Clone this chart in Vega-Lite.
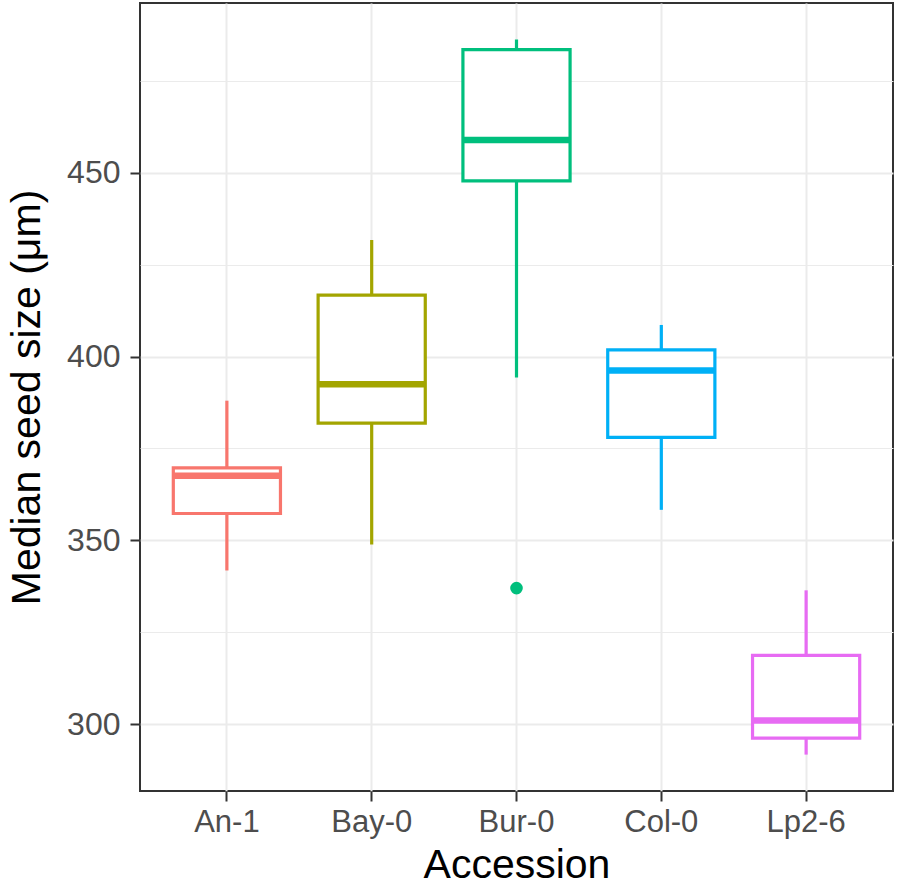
{
  "$schema": "https://vega.github.io/schema/vega-lite/v6.json",
  "width": 753,
  "height": 788,
  "autosize": {"type": "none"},
  "padding": {"left": 140, "top": 3, "right": 5, "bottom": 99},
  "background": "white",
  "config": {
    "view": {"stroke": "#333333", "strokeWidth": 2},
    "font": "Liberation Sans"
  },
  "data": {
    "values": [
      {"accession": "An-1", "lower": 341.8, "q1": 357.3, "median": 367.6, "q3": 369.7, "upper": 388.0},
      {"accession": "Bay-0", "lower": 348.9, "q1": 381.9, "median": 392.5, "q3": 416.7, "upper": 431.7},
      {"accession": "Bur-0", "lower": 394.3, "q1": 447.8, "median": 458.9, "q3": 483.5, "upper": 486.3, "outlier": 337.0},
      {"accession": "Col-0", "lower": 358.3, "q1": 378.0, "median": 396.2, "q3": 401.8, "upper": 408.6},
      {"accession": "Lp2-6", "lower": 291.7, "q1": 296.2, "median": 301.0, "q3": 318.7, "upper": 336.4}
    ]
  },
  "encoding": {
    "x": {
      "field": "accession",
      "type": "nominal",
      "scale": {"type": "band", "paddingInner": 0, "paddingOuter": 0.1},
      "axis": {
        "title": "Accession",
        "titleFontSize": 41,
        "titleFontWeight": "normal",
        "titleColor": "black",
        "titlePadding": 8,
        "labelFontSize": 31,
        "labelColor": "#4D4D4D",
        "labelAngle": 0,
        "labelPadding": 6,
        "tickSize": 10,
        "tickWidth": 2,
        "tickColor": "#333333",
        "domain": false,
        "grid": true,
        "gridColor": "#EBEBEB",
        "gridWidth": 2,
        "bandPosition": 0.5
      }
    },
    "color": {
      "field": "accession",
      "type": "nominal",
      "scale": {"range": ["#F8766D", "#A3A500", "#00BF7D", "#00B0F6", "#E76BF3"]},
      "legend": null
    }
  },
  "layer": [
    {
      "mark": {"type": "rule", "strokeWidth": 3.2},
      "encoding": {
        "y": {
          "field": "lower",
          "type": "quantitative",
          "scale": {"domain": [281.8, 496.2], "nice": false, "zero": false},
          "axis": {
            "title": "Median seed size (μm)",
            "titleFontSize": 41,
            "titleFontWeight": "normal",
            "titleColor": "black",
            "titlePadding": 18,
            "values": [300, 325, 350, 375, 400, 425, 450, 475],
            "labelExpr": "datum.value % 50 == 0 ? datum.label : ''",
            "labelFontSize": 32,
            "labelColor": "#4D4D4D",
            "labelPadding": 10,
            "tickSize": 10,
            "tickWidth": 2,
            "tickColor": "#333333",
            "tickOpacity": {"condition": {"test": "datum.value % 50 == 0", "value": 1}, "value": 0},
            "domain": false,
            "grid": true,
            "gridColor": "#EBEBEB",
            "gridWidth": {"condition": {"test": "datum.value % 50 == 0", "value": 2}, "value": 1}
          }
        },
        "y2": {"field": "upper"}
      }
    },
    {
      "mark": {"type": "bar", "fill": "white", "strokeWidth": 3.2, "width": {"band": 0.74}},
      "encoding": {
        "y": {"field": "q1", "type": "quantitative"},
        "y2": {"field": "q3"},
        "stroke": {"field": "accession", "type": "nominal", "scale": {"range": ["#F8766D", "#A3A500", "#00BF7D", "#00B0F6", "#E76BF3"]}, "legend": null}
      }
    },
    {
      "mark": {"type": "tick", "thickness": 6.5, "opacity": 1},
      "encoding": {
        "y": {"field": "median", "type": "quantitative"},
        "size": {"value": 108}
      }
    },
    {
      "mark": {"type": "circle", "opacity": 1, "size": 160},
      "encoding": {
        "y": {"field": "outlier", "type": "quantitative"}
      }
    }
  ]
}
